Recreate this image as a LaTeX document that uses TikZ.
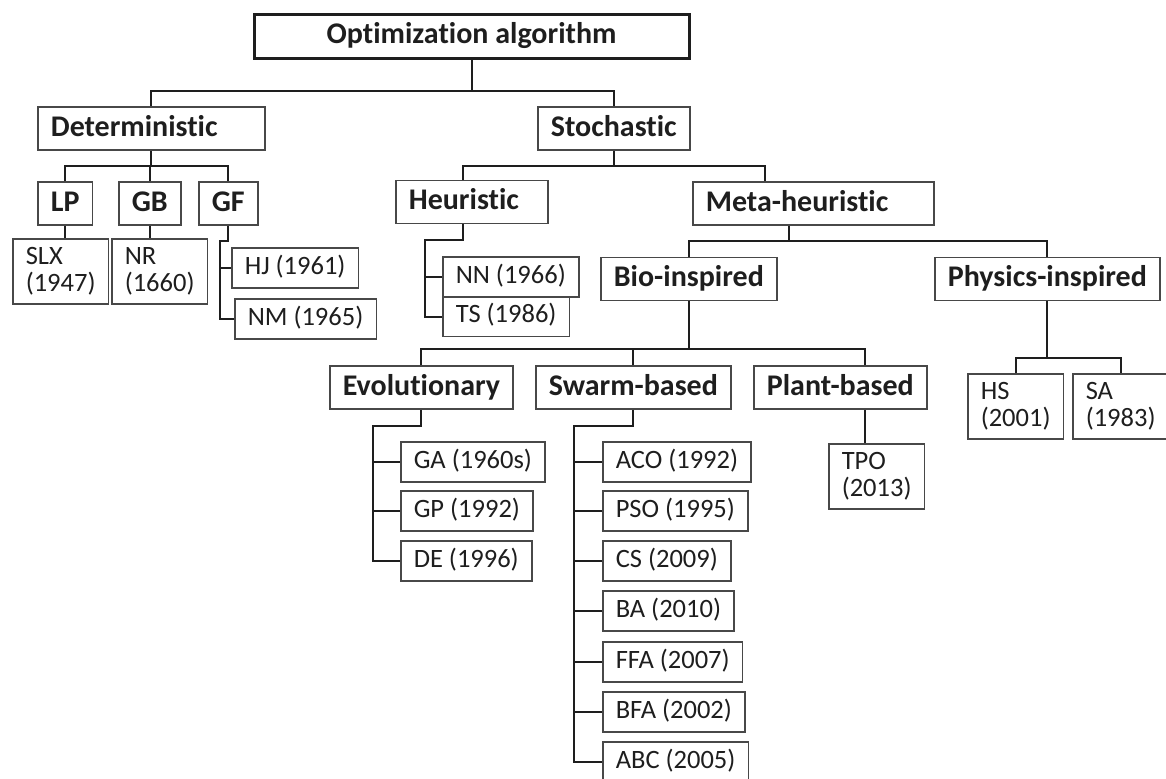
\documentclass[tikz,border=0pt]{standalone}
\usepackage{fontspec}
\setmainfont{Carlito}[Ligatures={NoCommon,NoContextual}]
\usetikzlibrary{calc}
\definecolor{boxline}{HTML}{484848}
\definecolor{ink}{HTML}{1E1E1E}

\begin{document}
\begin{tikzpicture}[x=0.5pt,y=-0.5pt,
	head/.style={draw=ink,line width=1.5pt,font=\bfseries\fontsize{15}{18}\selectfont,text=ink,minimum width=217.5pt,minimum height=22pt,inner ysep=0pt,text height=11pt,text depth=3.5pt},
	cat/.style={draw=boxline,line width=0.85pt,font=\bfseries\fontsize{15}{18}\selectfont,text=ink,anchor=west,inner xsep=6.5pt,inner ysep=0pt,minimum height=21.5pt,text height=11pt,text depth=3.5pt},
	leaf/.style={draw=boxline,line width=0.75pt,font=\fontsize{13.25}{13.5}\selectfont,text=ink,anchor=west,inner xsep=6.5pt,inner ysep=0pt,minimum height=20pt,text height=9.6pt,text depth=3.2pt},
	leaftwo/.style={draw=boxline,line width=0.75pt,font=\fontsize{13.25}{13.5}\selectfont,text=ink,anchor=west,inner xsep=6.5pt,inner ysep=0pt,minimum height=32.5pt,align=left},
	link/.style={draw=ink,line width=1pt}]
	\useasboundingbox (0,0) rectangle (1166,778);
	\node[head] (opt) at (471.5,36) {Optimization algorithm};
	\node[cat,text width=100.5pt] (det) at (37,128.5) {Deterministic};
	\node[cat] (sto) at (537,128.5) {Stochastic};
	\node[cat] (lp) at (37,203.5) {LP};
	\node[cat] (gb) at (118,203.5) {GB};
	\node[cat] (gf) at (198,203.5) {GF};
	\node[leaftwo] (slx) at (12,271.5) {SLX\\(1947)};
	\node[leaftwo] (nr) at (111,271.5) {NR\\(1660)};
	\node[leaf] (hj) at (231,268) {HJ (1961)};
	\node[leaf] (nm) at (234,319) {NM (1965)};
	\node[cat,text width=63pt] (heu) at (395,202) {Heuristic};
	\node[cat,text width=107.5pt] (meta) at (692,203.5) {Meta-heuristic};
	\node[leaf] (nn) at (442,277) {NN (1966)};
	\node[leaf] (ts) at (442,316.5) {TS (1986)};
	\node[cat] (bio) at (600,279) {Bio-inspired};
	\node[cat] (phy) at (934,279) {Physics-inspired};
	\node[cat] (evo) at (329,387.5) {Evolutionary};
	\node[cat] (swa) at (535,387.5) {Swarm-based};
	\node[cat] (pla) at (753,387.5) {Plant-based};
	\node[leaftwo] (hs) at (967,406.5) {HS\\(2001)};
	\node[leaftwo] (sa) at (1072,406.5) {SA\\(1983)};
	\node[leaftwo] (tpo) at (828,476.5) {TPO\\(2013)};
	\node[leaf] (ga) at (400,462) {GA (1960s)};
	\node[leaf] (gp) at (400,511) {GP (1992)};
	\node[leaf] (de) at (400,561) {DE (1996)};
	\node[leaf] (aco) at (602,462) {ACO (1992)};
	\node[leaf] (pso) at (602,511) {PSO (1995)};
	\node[leaf] (cs) at (602,561) {CS (2009)};
	\node[leaf] (ba) at (602,611) {BA (2010)};
	\node[leaf] (ffa) at (602,662) {FFA (2007)};
	\node[leaf] (bfa) at (602,712) {BFA (2002)};
	\node[leaf] (abc) at (602,762) {ABC (2005)};

	\draw[link] (opt.south) -- ++(0,31) coordinate (t0);
	\draw[link] (det.north) |- (t0) -| (sto.north);
	\draw[link] (det.south) -- ++(0,15) coordinate (t1);
	\draw[link] (lp.north) |- (t1) -| (gf.north);
	\draw[link] (gb.north) -- (gb.north |- t1);
	\draw[link] (lp.south) -- (lp.south |- slx.north);
	\draw[link] (gb.south) -- (gb.south |- nr.north);
	\coordinate (gfs) at ($(hj.west)+(-11,0)$);
	\draw[link] (gf.south) -- ++(0,15) -| (gfs) |- (nm.west);
	\draw[link] (gfs) -- (hj.west);

	\coordinate (metain) at ($(meta.north west)!.3!(meta.north east)$);
	\coordinate (heuin) at ($(heu.north west)!.44!(heu.north east)$);
	\draw[link] (sto.south) -- ++(0,15) coordinate (t2);
	\draw[link] (heuin) |- (t2) -| (metain);
	\coordinate (heuout) at ($(heu.south west)!.44!(heu.south east)$);
	\coordinate (heus) at ($(nn.west)+(-17,0)$);
	\draw[link] (heuout) -- ++(0,16) -| (heus) |- (ts.west);
	\draw[link] (heus) -- (nn.west);

	\coordinate (metaout) at ($(meta.south west)!.4!(meta.south east)$);
	\draw[link] (metaout) -- ++(0,15) coordinate (t3);
	\draw[link] (bio.north) |- (t3) -| (phy.north);
	\draw[link] (phy.south) -- ++(0,57) coordinate (t5);
	\draw[link] (hs.north) |- (t5) -| (sa.north);

	\coordinate (plin) at ($(pla.north west)!.64!(pla.north east)$);
	\coordinate (plout) at ($(pla.south west)!.64!(pla.south east)$);
	\draw[link] (bio.south) -- ++(0,48) coordinate (t4);
	\draw[link] (evo.north) |- (t4) -| (plin);
	\draw[link] (swa.north) -- (swa.north |- t4);
	\draw[link] (plout) -- (plout |- tpo.north);

	\coordinate (evs) at ($(ga.west)+(-27,0)$);
	\draw[link] (evo.south) -- ++(0,16) -| (evs) |- (de.west);
	\draw[link] (evs) -- (ga.west);
	\draw[link] (evs |- gp.west) -- (gp.west);

	\coordinate (sws) at ($(aco.west)+(-28,0)$);
	\draw[link] (swa.south) -- ++(0,16) -| (sws) |- (abc.west);
	\draw[link] (sws) -- (aco.west);
	\draw[link] (sws |- pso.west) -- (pso.west);
	\draw[link] (sws |- cs.west) -- (cs.west);
	\draw[link] (sws |- ba.west) -- (ba.west);
	\draw[link] (sws |- ffa.west) -- (ffa.west);
	\draw[link] (sws |- bfa.west) -- (bfa.west);
\end{tikzpicture}
\end{document}
